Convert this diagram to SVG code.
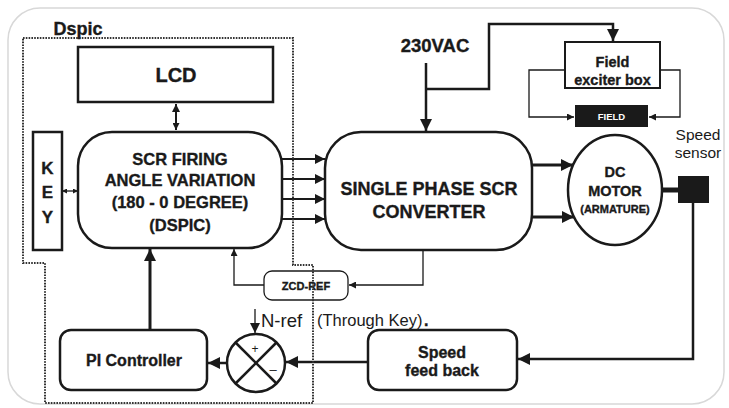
<svg xmlns="http://www.w3.org/2000/svg" width="729" height="408" viewBox="0 0 729 408">
<defs>
<style>
.box{fill:#fff;stroke:#1a1a1a;stroke-width:2.5}
.thin{fill:none;stroke:#1a1a1a;stroke-width:1.3}
.thick{fill:none;stroke:#1a1a1a;stroke-width:2.5}
.dot{fill:none;stroke:#333;stroke-width:2;stroke-dasharray:1.6 1.2}
.b{font-family:"Liberation Sans",Arial,sans-serif;font-weight:bold;fill:#1a1a1a;stroke:#1a1a1a;stroke-width:0.35;text-anchor:middle}
.r{font-family:"Liberation Sans",Arial,sans-serif;fill:#1a1a1a}
</style>
<marker id="aL" markerUnits="userSpaceOnUse" markerWidth="12" markerHeight="12" refX="12" refY="6" orient="auto"><path d="M0,0 L12,6 L0,12 z" fill="#1a1a1a"/></marker>
<marker id="aM" markerUnits="userSpaceOnUse" markerWidth="10" markerHeight="10" refX="10" refY="5" orient="auto"><path d="M0,0 L10,5 L0,10 z" fill="#1a1a1a"/></marker>
<marker id="aS" markerUnits="userSpaceOnUse" markerWidth="7" markerHeight="7" refX="7" refY="3.5" orient="auto"><path d="M0,0 L7,3.5 L0,7 z" fill="#1a1a1a"/></marker>
<marker id="aT" markerUnits="userSpaceOnUse" markerWidth="5" markerHeight="5" refX="5" refY="2.5" orient="auto"><path d="M0,0 L5,2.5 L0,5 z" fill="#1a1a1a"/></marker>
<marker id="aTs" markerUnits="userSpaceOnUse" markerWidth="5" markerHeight="5" refX="0" refY="2.5" orient="auto"><path d="M5,0 L0,2.5 L5,5 z" fill="#1a1a1a"/></marker>
<marker id="aSs" markerUnits="userSpaceOnUse" markerWidth="8" markerHeight="8" refX="0" refY="4" orient="auto"><path d="M8,0 L0,4 L8,8 z" fill="#1a1a1a"/></marker>
</defs>
<rect x="0" y="0" width="729" height="408" fill="#fff"/>
<rect x="8" y="8" width="716" height="396" rx="32" fill="#fff" stroke="#d8d8d8" stroke-width="1.5"/>

<g id="connectors">
<line class="thin" x1="176" y1="104" x2="176" y2="130" marker-start="url(#aSs)" marker-end="url(#aS)" style="stroke-width:2"/>
<line class="thin" x1="62" y1="191" x2="78" y2="191" marker-start="url(#aTs)" marker-end="url(#aT)"/>
<line class="thick" x1="282" y1="159" x2="325" y2="159" marker-end="url(#aM)" style="stroke-width:2"/>
<line class="thick" x1="282" y1="179" x2="325" y2="179" marker-end="url(#aM)" style="stroke-width:2"/>
<line class="thick" x1="282" y1="199" x2="325" y2="199" marker-end="url(#aM)" style="stroke-width:2"/>
<line class="thick" x1="282" y1="219" x2="325" y2="219" marker-end="url(#aM)" style="stroke-width:2"/>
<line class="thick" x1="426" y1="63" x2="426" y2="131" marker-end="url(#aL)"/>
<polyline class="thick" points="426,89 489,89 489,24 613,24 613,41" marker-end="url(#aL)"/>
<polyline class="thin" points="565,70 529,70 529,117 574,117" marker-end="url(#aS)"/>
<polyline class="thin" points="660,70 680,70 680,117 649,117" marker-end="url(#aS)"/>
<line class="thick" x1="532" y1="165" x2="573" y2="165" marker-end="url(#aL)" style="stroke-width:3"/>
<line class="thick" x1="532" y1="217" x2="574" y2="217" marker-end="url(#aL)" style="stroke-width:3"/>
<line class="thick" x1="662" y1="190" x2="679" y2="190" style="stroke-width:5"/>
<polyline class="thick" points="693,203 693,359 518,359" marker-end="url(#aL)"/>
<line class="thick" x1="368" y1="362" x2="286" y2="362" marker-end="url(#aL)"/>
<line class="thick" x1="227" y1="363" x2="208" y2="363" marker-end="url(#aL)"/>
<line class="thick" x1="150" y1="330" x2="150" y2="249" marker-end="url(#aL)" style="stroke-width:3"/>
<line class="thin" x1="255" y1="309" x2="255" y2="333" marker-end="url(#aM)"/>
<polyline class="thin" points="423,250 423,285 349,285" marker-end="url(#aS)"/>
<polyline class="thin" points="264,285 234,285 234,249" marker-end="url(#aS)"/>
</g>

<g id="lcd">
<rect class="box" x="78" y="47" width="195" height="55"/>
<text class="b" x="176" y="82" font-size="20">LCD</text>
</g>

<g id="key">
<rect class="box" x="33" y="132" width="29" height="118"/>
<text class="b" x="47.5" y="174" font-size="17">K</text>
<text class="b" x="47.5" y="198" font-size="17">E</text>
<text class="b" x="47.5" y="223" font-size="17">Y</text>
</g>

<g id="scr-firing">
<rect class="box" x="78" y="132" width="204" height="116" rx="34"/>
<text class="b" x="180" y="165" font-size="16.5">SCR FIRING</text>
<text class="b" x="180" y="186" font-size="16.5">ANGLE VARIATION</text>
<text class="b" x="180" y="208" font-size="16.5">(180 - 0 DEGREE)</text>
<text class="b" x="180" y="231" font-size="16.5">(DSPIC)</text>
</g>

<g id="converter">
<rect class="box" x="325" y="132" width="207" height="118" rx="36"/>
<text class="b" x="429" y="195" font-size="18">SINGLE PHASE SCR</text>
<text class="b" x="429" y="218" font-size="18">CONVERTER</text>
</g>

<g id="vac">
<text class="b" x="435" y="52" font-size="18.5">230VAC</text>
</g>

<g id="field-exciter">
<rect class="box" x="565" y="42" width="95" height="46" style="stroke-width:2"/>
<text class="b" x="612.5" y="67" font-size="14.5">Field</text>
<text class="b" x="612.5" y="85" font-size="14.5">exciter box</text>
</g>

<g id="field">
<rect x="575" y="105" width="73" height="22" fill="#1a1a1a"/>
<text class="b" x="611.5" y="120" font-size="9.5" style="fill:#fff;stroke:none">FIELD</text>
</g>

<g id="motor">
<ellipse class="box" cx="615" cy="190" rx="47" ry="55"/>
<text class="b" x="615" y="177" font-size="14.5">DC</text>
<text class="b" x="615" y="196" font-size="14.5">MOTOR</text>
<text class="b" x="615" y="213" font-size="11">(ARMATURE)</text>
</g>

<g id="speed-sensor">
<rect x="678" y="176" width="31" height="27" fill="#1a1a1a"/>
<text class="r" x="698" y="140" font-size="15.5" text-anchor="middle">Speed</text>
<text class="r" x="698" y="158" font-size="15.5" text-anchor="middle">sensor</text>
</g>

<g id="speed-feedback">
<rect class="box" x="368" y="330" width="149" height="60" rx="11"/>
<text class="b" x="442" y="358" font-size="16">Speed</text>
<text class="b" x="442" y="376" font-size="16">feed back</text>
</g>

<g id="summer">
<circle class="box" cx="256" cy="363" r="29"/>
<line class="thick" x1="235.5" y1="342.5" x2="276.5" y2="383.5"/>
<line class="thick" x1="276.5" y1="342.5" x2="235.5" y2="383.5"/>
<text class="r" x="255" y="353" font-size="12" text-anchor="middle">+</text>
<text class="r" x="273" y="374" font-size="13" text-anchor="middle">–</text>
</g>

<g id="nref">
<text class="r" x="261" y="327" font-size="18.5">N-ref</text>
<text class="r" x="317" y="326" font-size="16.5">(Through Key)</text>
<text class="b" x="424" y="326" font-size="16" style="text-anchor:start">.</text>
</g>

<g id="pi">
<rect class="box" x="60" y="330" width="147" height="60" rx="11"/>
<text class="b" x="134" y="366" font-size="16">PI Controller</text>
</g>

<g id="zcd">
<rect x="264" y="271" width="84" height="29" rx="8" fill="#fff" stroke="#1a1a1a" stroke-width="1.3"/>
<text class="b" x="306" y="290" font-size="11">ZCD-REF</text>
</g>

<g id="dspic">
<polyline class="dot" points="23,38 293,38 293,265 313,265 313,403 45,403 45,263 23,263 23,38"/>
<text class="b" x="78" y="35" font-size="18">Dspic</text>
</g>
</svg>
